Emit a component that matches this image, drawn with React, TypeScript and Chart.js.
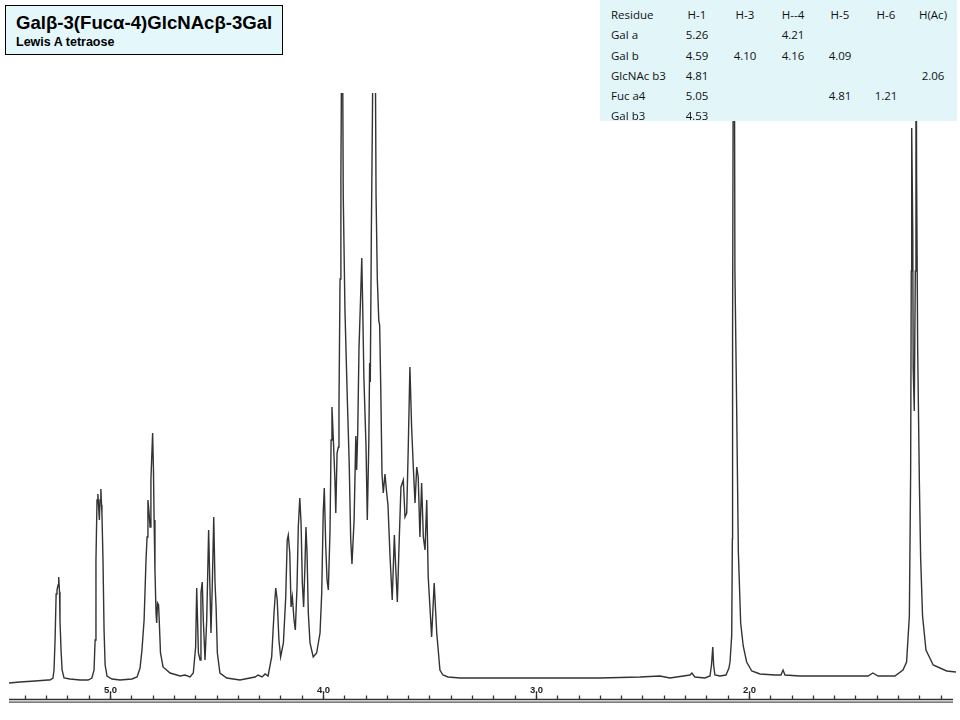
import React, { useEffect, useRef } from 'react';
import { Chart, registerables } from 'chart.js';

Chart.register(...registerables);

// ---------- Spectrum data (chemical shift in ppm, intensity in arbitrary units) ----------
const SHIFT_PPM: number[] = [
  5.474, 5.423, 5.352, 5.291, 5.282, 5.268, 5.263, 5.258, 5.253, 5.249, 5.244, 5.241, 5.237, 5.235, 5.230, 5.225, 5.216, 5.188, 5.141,
  5.103, 5.085, 5.075, 5.070, 5.066, 5.061, 5.057, 5.054, 5.050, 5.047, 5.043, 5.040, 5.038, 5.033, 5.028, 5.023, 5.014, 4.991, 4.953,
  4.897, 4.873, 4.859, 4.850, 4.840, 4.831, 4.826, 4.822, 4.817, 4.812, 4.808, 4.800, 4.796, 4.793, 4.789, 4.784, 4.781, 4.777, 4.772,
  4.769, 4.763, 4.751, 4.718, 4.671, 4.648, 4.624,
  4.609, 4.598, 4.593, 4.585, 4.577, 4.573, 4.567, 4.562, 4.554, 4.546, 4.540, 4.537, 4.531, 4.526, 4.520, 4.513, 4.507, 4.502, 4.496,
  4.484, 4.452, 4.390, 4.343, 4.319, 4.305, 4.286, 4.272, 4.258,
  4.241, 4.230, 4.222, 4.215, 4.207, 4.199, 4.186, 4.175, 4.168, 4.163,
  4.156, 4.150, 4.144, 4.136, 4.130, 4.122, 4.116, 4.109, 4.103, 4.097,
  4.091, 4.085, 4.080, 4.075, 4.069, 4.061, 4.046, 4.030, 4.014, 4.006,
  3.999, 3.994, 3.987, 3.981, 3.975, 3.967, 3.962, 3.958, 3.950, 3.944,
  3.940, 3.934, 3.928, 3.925, 3.920, 3.916, 3.910, 3.905, 3.897, 3.886,
  3.877, 3.870, 3.864, 3.854, 3.846, 3.842, 3.837, 3.831, 3.823, 3.818,
  3.814, 3.808, 3.798, 3.792, 3.785, 3.781, 3.778, 3.773, 3.768, 3.763,
  3.759, 3.756, 3.751, 3.745, 3.738, 3.734, 3.729, 3.723, 3.717, 3.709,
  3.701, 3.695, 3.685, 3.675, 3.665, 3.659, 3.651, 3.642, 3.634, 3.623,
  3.615, 3.607, 3.600, 3.592, 3.584, 3.576, 3.568, 3.560, 3.553, 3.545,
  3.537, 3.529, 3.521, 3.513, 3.506, 3.490, 3.478, 3.466, 3.451, 3.437,
  3.413, 3.357,
  3.263, 2.934, 2.700, 2.512, 2.418, 2.371, 2.277, 2.268, 2.254, 2.207,
  2.183, 2.176, 2.170, 2.166, 2.160, 2.136, 2.108, 2.094, 2.089, 2.081,
  2.078, 2.077, 2.071, 2.066, 2.058, 2.050, 2.039, 2.027, 2.011, 1.987,
  1.948, 1.878, 1.850, 1.840, 1.831, 1.761, 1.526, 1.441, 1.418, 1.394,
  1.315, 1.277, 1.260, 1.247, 1.241, 1.238, 1.236, 1.231, 1.229, 1.224,
  1.219, 1.216, 1.213, 1.208, 1.200, 1.194, 1.185, 1.169, 1.135, 1.072,
  1.025,
];

const INTENSITY: number[] = [
  17, 18, 19, 20, 20, 22, 30, 60, 106, 110, 115, 123, 108, 80, 50, 30, 22, 21, 20,
  20, 22, 30, 60, 140, 200, 206, 195, 180, 200, 211, 195, 187, 140, 70, 35, 24, 21, 20,
  21, 23, 32, 50, 80, 140, 163, 200, 188, 173, 220, 267, 230, 180, 130, 87, 77, 97, 95,
  80, 47, 33, 27, 24, 25, 23,
  27, 53, 112, 47, 40, 107, 118, 80, 40, 80, 140, 170, 113, 67, 113, 183, 117, 93, 47,
  27, 22, 20, 22, 23, 25, 23, 26, 24,
  43, 87, 112, 100, 60, 43, 57, 103, 160, 165,
  147, 93, 103, 80, 70, 113, 173, 202, 177, 117,
  93, 133, 173, 147, 87, 57, 43, 47, 67, 107,
  187, 212, 153, 120, 110, 170, 260, 293, 253, 220,
  187, 247, 253, 295, 421, 524, 750, 505, 390, 302,
  237, 161, 136, 180, 264, 230, 268, 352, 406, 442,
  398, 322, 253, 180, 257, 337, 318, 467, 582, 720,
  640, 720, 505, 421, 379, 375, 314, 226, 207, 226,
  207, 195, 142, 100, 165, 134, 98, 161, 213, 220,
  183, 187, 250, 333, 273, 233, 197, 233, 223, 163,
  217, 163, 150, 200, 123, 63, 117, 67, 30, 25,
  23, 22,
  22, 22, 22, 23, 24, 22, 25, 27, 23, 22,
  24, 35, 53, 35, 25, 24, 25, 32, 38, 65,
  161, 367, 900, 429, 295, 149, 77, 54, 38, 29,
  26, 25, 25, 30, 25, 24, 24, 24, 27, 24,
  24, 30, 38, 84, 226, 429, 572, 467, 333, 289,
  429, 800, 524, 352, 218, 142, 84, 50, 35, 29,
  28,
];

// ---------- Axis ----------
const AXIS_MAX_PPM = 5.479;
const AXIS_MIN_PPM = 1.028;
const INTENSITY_MAX = 607;
const MAJOR_TICKS = [5.0, 4.0, 3.0, 2.0];
const MAJOR_TICK_LABELS = ['5.0', '4.0', '3.0', '2.0'];
const MINOR_TICK_FIRST_TENTHS = 54; // 5.4 ppm
const MINOR_TICK_LAST_TENTHS = 11; // 1.1 ppm

// ---------- Text ----------
const TITLE = 'Galβ-3(Fucα-4)GlcNAcβ-3Gal';
const SUBTITLE = 'Lewis A tetraose';
const TABLE_HEADER = ['Residue', 'H-1', 'H-3', 'H--4', 'H-5', 'H-6', 'H(Ac)'];
const RESIDUES = ['Gal a', 'Gal b', 'GlcNAc b3', 'Fuc a4', 'Gal b3'];
const SHIFT_H1 = ['5.26', '4.59', '4.81', '5.05', '4.53'];
const SHIFT_H3 = ['', '4.10', '', '', ''];
const SHIFT_H4 = ['4.21', '4.16', '', '', ''];
const SHIFT_H5 = ['', '4.09', '', '4.81', ''];
const SHIFT_H6 = ['', '', '', '1.21', ''];
const SHIFT_HAC = ['', '', '2.06', '', ''];

const nmrAxisPlugin = {
  id: 'nmrAxis',
  afterDraw(chart: any) {
    const { ctx, chartArea } = chart;
    const xs = chart.scales.x;
    const yAxis = chartArea.bottom - 0.5;
    ctx.save();
    ctx.strokeStyle = '#333';
    ctx.lineWidth = 1.7;
    ctx.beginPath();
    ctx.moveTo(chartArea.left + 1, yAxis);
    ctx.lineTo(chartArea.right - 3, yAxis);
    ctx.stroke();
    ctx.lineWidth = 1.1;
    ctx.strokeStyle = '#505050';
    ctx.beginPath();
    ctx.moveTo(chartArea.left + 1, yAxis + 2.6);
    ctx.lineTo(chartArea.right - 3, yAxis + 2.6);
    ctx.stroke();
    ctx.strokeStyle = '#333';
    ctx.lineWidth = 1.3;
    for (let k = MINOR_TICK_FIRST_TENTHS; k >= MINOR_TICK_LAST_TENTHS; k--) {
      const px = Math.round(xs.getPixelForValue(k / 10)) + 0.5;
      ctx.beginPath();
      ctx.moveTo(px, yAxis - 4);
      ctx.lineTo(px, yAxis);
      ctx.stroke();
    }
    ctx.fillStyle = '#222';
    ctx.font = 'bold 9.5px "Liberation Sans", Arial, sans-serif';
    ctx.textAlign = 'center';
    ctx.textBaseline = 'alphabetic';
    MAJOR_TICKS.forEach((v, i) => {
      const px = Math.round(xs.getPixelForValue(v)) + 0.5;
      ctx.beginPath();
      ctx.moveTo(px, yAxis - 8);
      ctx.lineTo(px, yAxis);
      ctx.stroke();
      ctx.fillText(MAJOR_TICK_LABELS[i], px, yAxis - 7);
    });
    ctx.restore();
  },
};

const TABLE_COL_CENTERS = [697, 745, 793, 840, 886, 933];
const TABLE_ROW_CENTERS = [15.3, 35.4, 55.5, 75.6, 95.7, 115.8];

export default function App() {
  const canvasRef = useRef<HTMLCanvasElement>(null);

  useEffect(() => {
    const canvas = canvasRef.current;
    if (!canvas) return;
    const chart = new Chart(canvas, {
      type: 'line',
      data: {
        datasets: [
          {
            data: SHIFT_PPM.map((p, i) => ({ x: p, y: INTENSITY[i] })),
            borderColor: '#333333',
            borderWidth: 1.4,
            pointRadius: 0,
            tension: 0,
            fill: false,
            clip: 0,
          } as any,
        ],
      },
      options: {
        animation: false,
        responsive: false,
        devicePixelRatio: 1,
        events: [],
        layout: { padding: { left: 8, right: 4, top: 93, bottom: 20 } },
        plugins: {
          legend: { display: false },
          tooltip: { enabled: false },
          title: { display: false },
        },
        scales: {
          x: { type: 'linear', reverse: true, min: AXIS_MIN_PPM, max: AXIS_MAX_PPM, display: false },
          y: { type: 'linear', min: 0, max: INTENSITY_MAX, display: false },
        },
      },
      plugins: [nmrAxisPlugin],
    });
    return () => chart.destroy();
  }, []);

  const shiftColumns = [SHIFT_H1, SHIFT_H3, SHIFT_H4, SHIFT_H5, SHIFT_H6, SHIFT_HAC];
  const cellStyle = (left: number, top: number, center: boolean): React.CSSProperties => ({
    position: 'absolute',
    left,
    top: top - 6,
    height: 12,
    lineHeight: '12px',
    transform: center ? 'translateX(-50%)' : undefined,
    whiteSpace: 'nowrap',
  });

  return (
    <div style={{ position: 'absolute', left: 0, top: 0, width: 960, height: 720, background: '#fff', overflow: 'hidden' }}>
      <canvas ref={canvasRef} width={960} height={720} style={{ position: 'absolute', left: 0, top: 0, display: 'block' }} />
      <div
        style={{
          position: 'absolute',
          left: 5,
          top: 5,
          width: 278,
          height: 50,
          boxSizing: 'border-box',
          border: '1px solid #000',
          background: '#e4f7fb',
          fontFamily: '"Liberation Sans", Arial, sans-serif',
          fontWeight: 'bold',
          color: '#000',
        }}
      >
        <div style={{ position: 'absolute', left: 10, top: 7, fontSize: 18.6, lineHeight: '19px', whiteSpace: 'nowrap' }}>{TITLE}</div>
        <div style={{ position: 'absolute', left: 10, top: 30, fontSize: 12.5, lineHeight: '12.5px', whiteSpace: 'nowrap' }}>{SUBTITLE}</div>
      </div>
      <div
        style={{
          position: 'absolute',
          left: 600,
          top: 0,
          width: 357,
          height: 121,
          background: '#e2f6f9',
          fontFamily: '"Open Sans", "Noto Sans", sans-serif',
          fontSize: 11.5,
          color: '#111',
        }}
      >
        <div style={cellStyle(11, TABLE_ROW_CENTERS[0], false)}>{TABLE_HEADER[0]}</div>
        {TABLE_HEADER.slice(1).map((h, c) => (
          <div key={'h' + c} style={cellStyle(TABLE_COL_CENTERS[c] - 600, TABLE_ROW_CENTERS[0], true)}>{h}</div>
        ))}
        {RESIDUES.map((r, ri) => (
          <React.Fragment key={'r' + ri}>
            <div style={cellStyle(11, TABLE_ROW_CENTERS[ri + 1], false)}>{r}</div>
            {shiftColumns.map((col, c) =>
              col[ri] ? (
                <div key={'c' + c} style={cellStyle(TABLE_COL_CENTERS[c] - 600, TABLE_ROW_CENTERS[ri + 1], true)}>{col[ri]}</div>
              ) : null
            )}
          </React.Fragment>
        ))}
      </div>
    </div>
  );
}
